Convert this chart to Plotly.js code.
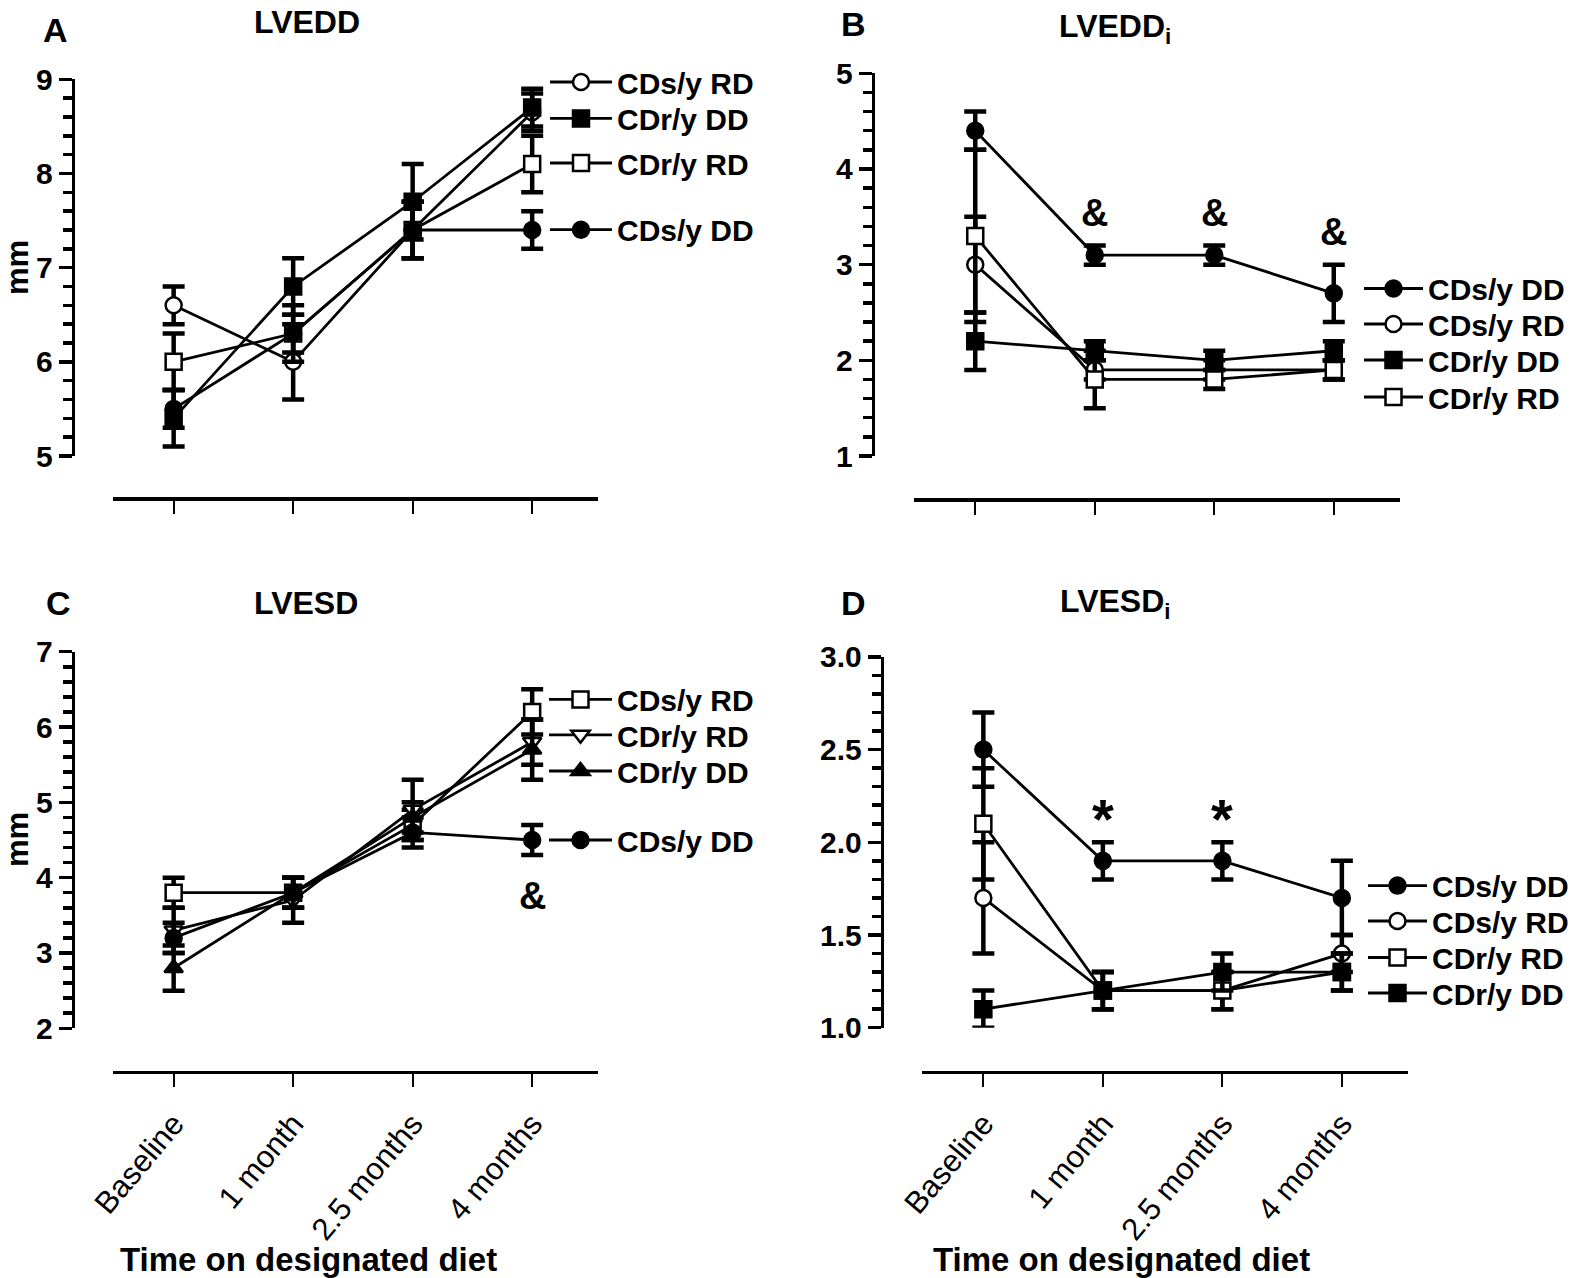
<!DOCTYPE html>
<html><head><meta charset="utf-8">
<script src="https://cdn.plot.ly/plotly-3.0.1.min.js"></script>
<style>html,body{margin:0;padding:0;background:#fff}#chart{width:1587px;height:1278px}</style>
</head><body><div id="chart"></div>
<script>
// ---------- data ----------
const timepoints = ['Baseline', '1 month', '2.5 months', '4 months'];

// Panel A: LVEDD (mm)
const A_CDs_RD = [6.6, 6.0, 7.4, 8.65];  const A_CDs_RD_err = [0.2, 0.4, 0.3, 0.2];
const A_CDr_DD = [5.4, 6.8, 7.7, 8.7];   const A_CDr_DD_err = [0.3, 0.3, 0.4, 0.2];
const A_CDr_RD = [6.0, 6.3, 7.4, 8.1];   const A_CDr_RD_err = [0.3, 0.3, 0.3, 0.3];
const A_CDs_DD = [5.5, 6.3, 7.4, 7.4];   const A_CDs_DD_err = [0.2, 0.2, 0.3, 0.2];

// Panel B: LVEDDi
const B_CDs_DD = [4.4, 3.1, 3.1, 2.7];   const B_CDs_DD_err = [0.2, 0.1, 0.1, 0.3];
const B_CDs_RD = [3.0, 1.9, 1.9, 1.9];   const B_CDs_RD_err = [0.5, 0.1, 0.1, 0.1];
const B_CDr_DD = [2.2, 2.1, 2.0, 2.1];   const B_CDr_DD_err = [0.3, 0.1, 0.1, 0.1];
const B_CDr_RD = [3.3, 1.8, 1.8, 1.9];   const B_CDr_RD_err = [0.9, 0.3, 0.1, 0.1];

// Panel C: LVESD (mm)
const C_CDs_RD = [3.8, 3.8, 4.7, 6.2];   const C_CDs_RD_err = [0.2, 0.2, 0.2, 0.3];
const C_CDr_RD = [3.3, 3.7, 4.9, 5.8];   const C_CDr_RD_err = [0.3, 0.3, 0.4, 0.3];
const C_CDr_DD = [2.8, 3.8, 4.8, 5.7];   const C_CDr_DD_err = [0.3, 0.2, 0.2, 0.4];
const C_CDs_DD = [3.2, 3.8, 4.6, 4.5];   const C_CDs_DD_err = [0.2, 0.2, 0.2, 0.2];

// Panel D: LVESDi
const D_CDs_DD = [2.5, 1.9, 1.9, 1.7];   const D_CDs_DD_err = [0.2, 0.1, 0.1, 0.2];
const D_CDs_RD = [1.7, 1.2, 1.2, 1.4];   const D_CDs_RD_err = [0.3, 0.1, 0.1, 0.1];
const D_CDr_RD = [2.1, 1.2, 1.2, 1.3];   const D_CDr_RD_err = [0.3, 0.1, 0.1, 0.1];
const D_CDr_DD = [1.1, 1.2, 1.3, 1.3];   const D_CDr_DD_err = [0.1, 0.1, 0.1, 0.1];

// ---------- helpers ----------
const W = 1587, H = 1278;
const FONT = 'Liberation Sans, Arial, Helvetica, sans-serif';
const px = v => v / W;
const py = v => 1 - v / H;

function tr(name, y, err, symbol, filled, xa, ya, leg) {
  return {
    type: 'scatter', mode: 'lines+markers', x: timepoints, y: y, name: name,
    xaxis: xa, yaxis: ya, legend: leg, showlegend: true, cliponaxis: false,
    line: {color: '#000', width: 2.8},
    marker: {symbol: symbol, size: 16, color: filled ? '#000' : '#fff', line: {color: '#000', width: 2.5}},
    error_y: {type: 'data', array: err, visible: true, color: '#000', thickness: 4.5, width: 11}
  };
}

function xax(domL, posY, labels) {
  const span = 485.2;
  return {
    type: 'category', range: [-0.51, 3.55], domain: [px(domL), px(domL + span)],
    anchor: 'free', position: py(posY),
    showline: true, linecolor: '#000', linewidth: 3.5,
    ticks: 'outside', ticklen: 13, tickwidth: 2, tickcolor: '#000',
    showgrid: false, zeroline: false, showticklabels: labels,
    tickangle: -50, ticklabelstandoff: 6,
    tickfont: {family: FONT, size: 31, color: '#000'}, fixedrange: true
  };
}

function yax(topPx, botPx, posX, range, dtick, minorDtick, fmt) {
  return {
    range: range, domain: [py(botPx), py(topPx)], anchor: 'free', position: px(posX),
    showline: true, linecolor: '#000', linewidth: 3.5,
    ticks: 'outside', ticklen: 13, tickwidth: 3.5, tickcolor: '#000',
    tick0: range[0], dtick: dtick, tickformat: fmt,
    minor: {dtick: minorDtick, tick0: range[0], ticks: 'outside', ticklen: 9, tickwidth: 3.5, tickcolor: '#000', showgrid: false},
    showgrid: false, zeroline: false,
    tickfont: {family: FONT, size: 30, color: '#000', weight: 'bold'}, fixedrange: true
  };
}

function leg(markerX, textX, centerY) {
  return {
    x: px(markerX - 20), y: py(centerY), xanchor: 'left', yanchor: 'middle',
    xref: 'paper', yref: 'paper', bgcolor: 'rgba(0,0,0,0)', borderwidth: 0,
    itemwidth: Math.max(30, textX - markerX + 10),
    font: {family: FONT, size: 30, color: '#000', weight: 'bold'}
  };
}

// ---------- traces ----------
const data = [
  tr('CDs/y RD', A_CDs_RD, A_CDs_RD_err, 'circle', false, 'x', 'y', 'legend'),
  tr('CDr/y DD', A_CDr_DD, A_CDr_DD_err, 'square', true, 'x', 'y', 'legend2'),
  tr('CDr/y RD', A_CDr_RD, A_CDr_RD_err, 'square', false, 'x', 'y', 'legend3'),
  tr('CDs/y DD', A_CDs_DD, A_CDs_DD_err, 'circle', true, 'x', 'y', 'legend4'),

  tr('CDs/y DD', B_CDs_DD, B_CDs_DD_err, 'circle', true, 'x2', 'y2', 'legend5'),
  tr('CDs/y RD', B_CDs_RD, B_CDs_RD_err, 'circle', false, 'x2', 'y2', 'legend6'),
  tr('CDr/y DD', B_CDr_DD, B_CDr_DD_err, 'square', true, 'x2', 'y2', 'legend7'),
  tr('CDr/y RD', B_CDr_RD, B_CDr_RD_err, 'square', false, 'x2', 'y2', 'legend8'),

  tr('CDs/y RD', C_CDs_RD, C_CDs_RD_err, 'square', false, 'x3', 'y3', 'legend9'),
  tr('CDr/y RD', C_CDr_RD, C_CDr_RD_err, 'triangle-down', false, 'x3', 'y3', 'legend10'),
  tr('CDr/y DD', C_CDr_DD, C_CDr_DD_err, 'triangle-up', true, 'x3', 'y3', 'legend11'),
  tr('CDs/y DD', C_CDs_DD, C_CDs_DD_err, 'circle', true, 'x3', 'y3', 'legend12'),

  tr('CDs/y DD', D_CDs_DD, D_CDs_DD_err, 'circle', true, 'x4', 'y4', 'legend13'),
  tr('CDs/y RD', D_CDs_RD, D_CDs_RD_err, 'circle', false, 'x4', 'y4', 'legend14'),
  tr('CDr/y RD', D_CDr_RD, D_CDr_RD_err, 'square', false, 'x4', 'y4', 'legend15'),
  tr('CDr/y DD', D_CDr_DD, D_CDr_DD_err, 'square', true, 'x4', 'y4', 'legend16')
];

function ann(text, x, y, size, extra) {
  return Object.assign({text: text, x: px(x), y: py(y), xref: 'paper', yref: 'paper',
    xanchor: 'center', yanchor: 'middle', showarrow: false,
    font: {family: FONT, size: size, color: '#000', weight: 'bold'}}, extra || {});
}
function mark(text, xa, ya, cat, val, size) {
  return {text: text, x: cat, y: val, xref: xa, yref: ya, xanchor: 'center', yanchor: 'middle',
    showarrow: false, font: {family: FONT, size: size, color: '#000', weight: 'bold'}};
}

const annotations = [
  ann('A', 55, 30, 34), ann('LVEDD', 307, 22, 32),
  ann('B', 854, 24, 34), ann('LVEDD<sub>i</sub>', 1115, 29, 32),
  ann('C', 58, 603, 34), ann('LVESD', 306, 603, 32),
  ann('D', 854, 603, 34), ann('LVESD<sub>i</sub>', 1115, 604, 32),
  ann('mm', 17, 268, 31, {textangle: -90}),
  ann('mm', 17, 840, 31, {textangle: -90}),
  ann('Time on designated diet', 308, 1259, 33),
  ann('Time on designated diet', 1121, 1259, 33),
  mark('&', 'x', 'y', '4 months', 9.2, 38),
  mark('&', 'x2', 'y2', '1 month', 3.54, 38),
  mark('&', 'x2', 'y2', '2.5 months', 3.54, 38),
  mark('&', 'x2', 'y2', '4 months', 3.34, 38),
  mark('&', 'x3', 'y3', '4 months', 3.75, 38),
  mark('*', 'x4', 'y4', '1 month', 2.13, 56),
  mark('*', 'x4', 'y4', '2.5 months', 2.13, 56)
];

const layout = {
  width: W, height: H, margin: {l: 0, r: 0, t: 0, b: 0, autoexpand: false},
  paper_bgcolor: '#fff', plot_bgcolor: 'rgba(0,0,0,0)', showlegend: true,
  xaxis: xax(112.7, 498.3, false),
  yaxis: yax(79.3, 456, 72.7, [5, 9], 1, 0.2, 'd'),
  xaxis2: xax(914.3, 499, false),
  yaxis2: yax(73.3, 456, 872.7, [1, 5], 1, 0.2, 'd'),
  xaxis3: xax(112.7, 1071.7, true),
  yaxis3: yax(651.7, 1028.3, 72.7, [2, 7], 1, 0.2, 'd'),
  xaxis4: xax(922.4, 1071.7, true),
  yaxis4: yax(656.9, 1027.7, 881.7, [1, 3], 0.5, 0.1, '.1f'),
  legend: leg(565, 617, 82),
  legend2: leg(565, 617, 118.4),
  legend3: leg(565, 617, 163),
  legend4: leg(565, 617, 229.7),
  legend5: leg(1379, 1428, 288.5),
  legend6: leg(1379, 1428, 324),
  legend7: leg(1379, 1428, 360),
  legend8: leg(1379, 1428, 397),
  legend9: leg(564, 617, 699.4),
  legend10: leg(564, 617, 734.8),
  legend11: leg(564, 617, 771),
  legend12: leg(564, 617, 840),
  legend13: leg(1383, 1432, 885.6),
  legend14: leg(1383, 1432, 921),
  legend15: leg(1383, 1432, 957.5),
  legend16: leg(1383, 1432, 993),
  annotations: annotations
};

Plotly.newPlot('chart', data, layout, {displayModeBar: false, staticPlot: true});
</script></body></html>
